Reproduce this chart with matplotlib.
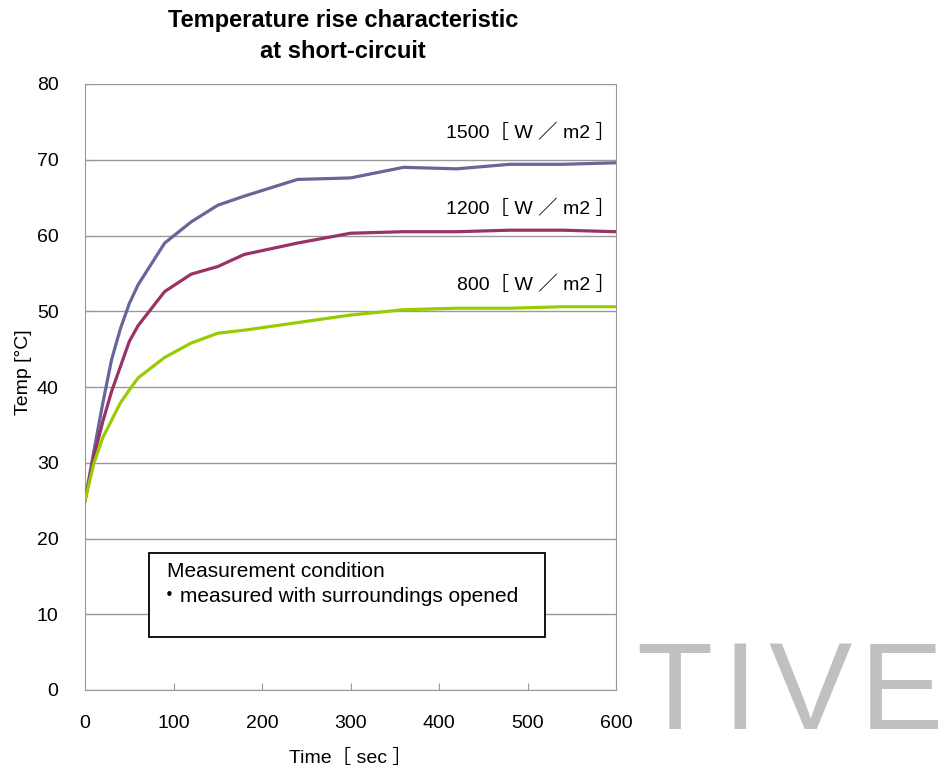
import matplotlib
matplotlib.use("Agg")
import matplotlib.pyplot as plt
from matplotlib.patches import Rectangle

plt.rcParams['font.family'] = ['Liberation Sans', 'Noto Sans CJK JP', 'DejaVu Sans']

# data
time_s = [0, 10, 20, 30, 40, 50, 60, 90, 120, 150, 180, 240, 300, 360, 420, 480, 540, 600]
t_1500 = [25.0, 31.5, 37.8, 43.6, 47.7, 51.0, 53.5, 59.0, 61.8, 64.0, 65.2, 67.4, 67.6, 69.0, 68.8, 69.4, 69.4, 69.6]
t_1200 = [25.0, 30.8, 35.4, 39.4, 42.7, 46.0, 48.1, 52.6, 54.9, 55.9, 57.5, 59.0, 60.3, 60.5, 60.5, 60.7, 60.7, 60.5]
t_800 = [25.0, 29.9, 33.3, 35.6, 37.9, 39.6, 41.2, 43.9, 45.8, 47.1, 47.5, 48.5, 49.5, 50.2, 50.4, 50.4, 50.6, 50.6]
series_labels = ['1500［ W ／ m2 ］', '1200［ W ／ m2 ］', '800［ W ／ m2 ］']
series_colors = ['#666699', '#993366', '#99CC00']
label_y = [73.5, 63.5, 53.5]

fig = plt.figure(figsize=(9.47, 7.72), dpi=100)
ax = fig.add_axes([85 / 947, 1 - 690 / 772, (616 - 85) / 947, (690 - 84) / 772])

for ys, c in zip([t_1500, t_1200, t_800], series_colors):
    ax.plot(time_s, ys, color=c, lw=2.3, zorder=3)

for lab, y in zip(series_labels, label_y):
    ax.text(599, y, lab, ha='right', va='center', fontsize=14)

ax.set_xlim(0, 600)
ax.set_ylim(0, 80)
ax.set_xticks(range(0, 601, 100))
ax.set_yticks(range(0, 81, 10))
ax.grid(axis='y', color='#999999', lw=1)
ax.set_axisbelow(True)
for s in ax.spines.values():
    s.set_color('#999999')
ax.spines['top'].set_visible(False)
ax.tick_params(axis='x', direction='in', length=5, color='#999999', labelsize=14, pad=18)
ax.tick_params(axis='y', direction='in', length=4, color='#999999', labelsize=14, pad=19)

ax.set_xlabel('Time［ sec ］', fontsize=14, labelpad=12)
ax.set_ylabel('Temp [°C]', fontsize=14)
ax.yaxis.set_label_coords(-0.1, 0.525)

fig.text(343 / 947, 1 - 36 / 772, 'Temperature rise characteristic\nat short-circuit',
         ha='center', va='center', fontsize=17, fontweight='bold', linespacing=1.5)

# measurement condition box
ax.add_patch(Rectangle((72.3, 7.0), 447.5, 11.1, facecolor='white', edgecolor='black', lw=1.3, zorder=4))
ax.text(93, 15.6, 'Measurement condition', fontsize=15, va='center', zorder=5)
ax.text(84, 12.4, '・measured with surroundings opened', fontsize=15, va='center', zorder=5)

# watermark
for ch, x in zip('TIVE', [636, 722, 768, 860]):
    fig.text(x / 947, 1 - 729 / 772, ch, fontsize=90, color='#C0C0C0',
             ha='left', va='baseline')

fig.savefig('out.png', dpi=100)
